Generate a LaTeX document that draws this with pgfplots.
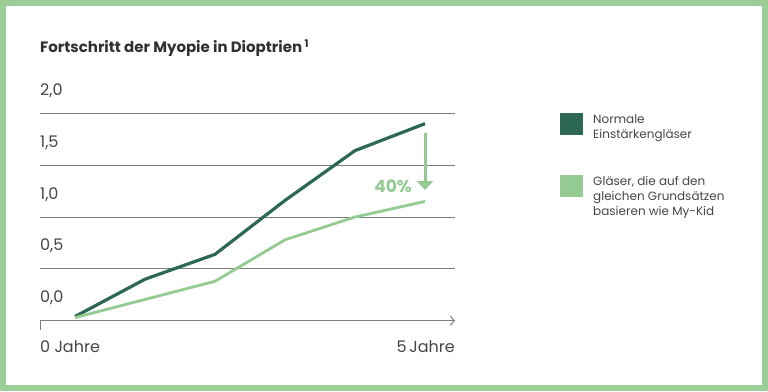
\documentclass[border=0pt]{standalone}
\usepackage{pgfplots}
\pgfplotsset{compat=1.18}
\usepackage{fontspec}
\setmainfont{Poppins}
\usetikzlibrary{arrows.meta}
\definecolor{darkg}{RGB}{45,105,82}
\definecolor{lightg}{RGB}{148,203,146}
\definecolor{frameg}{RGB}{158,206,152}
\definecolor{gridc}{RGB}{125,125,125}
\definecolor{txt}{RGB}{70,70,70}
\tikzset{ylab/.style={anchor=base west, inner sep=0pt, font=\fontsize{16bp}{19bp}\selectfont, text=txt, yshift=18bp}}
\begin{document}
\begin{tikzpicture}[x=1bp,y=1bp]
\fill[white] (0,0) rectangle (768,391);
\path[use as bounding box] (0,0) rectangle (768,391);
\draw[frameg, line width=6bp] (3,3) rectangle (765,388);
\node[anchor=base west, inner sep=0pt, font=\fontsize{15bp}{18bp}\selectfont\bfseries, text=txt!70!black] at (40,338.3) {Fortschritt der Myopie in Dioptrien\,\textsuperscript{1}};
\begin{axis}[
  at={(40bp,70.3bp)}, anchor=south west,
  scale only axis, width=415bp, height=207.4bp,
  xmin=-0.5, xmax=5.4286, ymin=0, ymax=2,
  hide axis, clip=false,
  legend style={at={(rel axis cs:1.2530,1.0014)}, anchor=north west,
    draw=none, fill=none, inner sep=0pt, outer sep=0pt,
    row sep=35bp, column sep=10bp,
    font=\fontsize{12bp}{15bp}\selectfont, text=txt,
    cells={anchor=north west, align=left}, nodes={inner sep=0pt}},
  legend image code/.code={\fill (0bp,0bp) rectangle (20bp,-19bp);},
]
\pgfplotsinvokeforeach{0.5,1,1.5,2}{\draw[gridc, line width=1bp] (axis cs:-0.5,#1) -- (axis cs:5.4286,#1);}
\draw[gridc, line width=1bp, -{Straight Barb[length=4bp,width=9bp]}] (axis cs:-0.5,0) -- (axis cs:5.4286,0);
\draw[gridc, line width=1bp] ([yshift=0.5bp]axis cs:-0.5,0) -- ([yshift=-9bp]axis cs:-0.5,0);
\node[ylab] at (axis cs:-0.5,0) {0,0};
\node[ylab] at (axis cs:-0.5,0.5) {0,5};
\node[ylab] at (axis cs:-0.5,1) {1,0};
\node[ylab] at (axis cs:-0.5,1.5) {1,5};
\node[ylab] at (axis cs:-0.5,2) {2,0};
\node[anchor=base west, inner sep=0pt, font=\fontsize{16bp}{19bp}\selectfont, text=txt, yshift=-31.5bp] at (axis cs:-0.5,0) {0 Jahre};
\node[anchor=base east, inner sep=0pt, font=\fontsize{16bp}{19bp}\selectfont, text=txt, yshift=-31.5bp] at (axis cs:5.4286,0) {5\,Jahre};
\addplot[darkg, line width=3.2bp] coordinates {(0,0.04)(1,0.40)(2,0.64)(3,1.16)(4,1.64)(5,1.90)};
\addlegendentry{Normale\\Einstärkengläser}
\addplot[lightg, line width=2.8bp] coordinates {(0,0.03)(2,0.38)(3,0.78)(4,1.00)(5,1.15)};
\addlegendentry{Gläser, die auf den\\gleichen Grundsätzen\\basieren wie My-Kid}
\draw[lightg, line width=3bp, -{Triangle[length=9bp,width=16bp]}] (axis cs:5,1.81) -- (axis cs:5,1.26);
\node[text=lightg, font=\fontsize{17bp}{20bp}\selectfont\bfseries] at (axis cs:4.543,1.292) {40\%};
\end{axis}
\end{tikzpicture}
\end{document}
